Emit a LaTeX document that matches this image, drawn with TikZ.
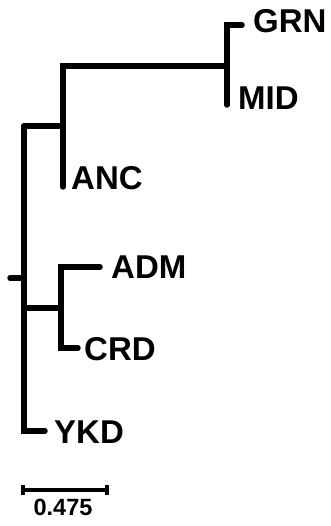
\documentclass[tikz,border=0pt]{standalone}
\usepackage{fontspec}
\setmainfont{Liberation Sans}
\begin{document}
\begin{tikzpicture}[x=1pt,y=-1pt,
  branch/.style={line width=5.5pt, line cap=round, line join=miter},
  taxon/.style={anchor=base west, inner sep=0pt, font=\fontsize{33}{33}\selectfont\bfseries},
  scalebar/.style={line width=4pt},
  scaletick/.style={line width=3.5pt},
  scalelabel/.style={anchor=base, inner sep=0pt, font=\fontsize{23.5}{23.5}\selectfont\bfseries}]
\useasboundingbox (0,0) rectangle (330,526);

% root and spine
\coordinate (root)     at (10,278);
\coordinate (spineR)   at (24,278);
\coordinate (spineTop) at (24,126);
\coordinate (spineBot) at (24,431);
\coordinate (spineMid) at (24,308);

% upper clade
\coordinate (upTop)  at (63,126);
\coordinate (upHigh) at (63,66);
\coordinate (ancEnd) at (63,187);
\coordinate (gmLow)  at (227,66);
\coordinate (gmTop)  at (227,25);
\coordinate (midEnd) at (227,105);
\coordinate (grnEnd) at (242,25);

% ADM / CRD clade
\coordinate (acJoin) at (61,308);
\coordinate (admC)   at (61,267);
\coordinate (crdC)   at (61,348);
\coordinate (admEnd) at (100,267);
\coordinate (crdEnd) at (78,348);

% YKD tip
\coordinate (ykdEnd) at (45,431);

% taxon labels
\node[taxon] (grn) at (253,33)  {GRN};
\node[taxon] (mid) at (238,110) {MID};
\node[taxon] (anc) at (71,190)  {ANC};
\node[taxon] (adm) at (111,278) {ADM};
\node[taxon] (crd) at (84,360)  {CRD};
\node[taxon] (ykd) at (54,443)  {YKD};

% branches
\draw[branch] (root) -- (spineR);
\draw[branch] (spineTop) -- (spineBot) -- (ykdEnd);
\draw[branch] (spineTop) -- (upTop);
\draw[branch] (ancEnd) -- (upHigh) -- (gmLow);
\draw[branch] (midEnd) -- (gmTop) -- (grnEnd);
\draw[branch] (spineMid) -- (acJoin);
\draw[branch] (crdEnd) -- (crdC) -- (admC) -- (admEnd);

% scale bar
\coordinate (sbL) at (23,490);
\coordinate (sbR) at (107,490);
\draw[scalebar] (sbL) -- (sbR);
\draw[scaletick] ([yshift=-5pt]sbL) -- ([yshift=5pt]sbL);
\draw[scaletick] ([yshift=-5pt]sbR) -- ([yshift=5pt]sbR);
\node[scalelabel] (sblabel) at (63,515) {0.475};
\end{tikzpicture}
\end{document}
